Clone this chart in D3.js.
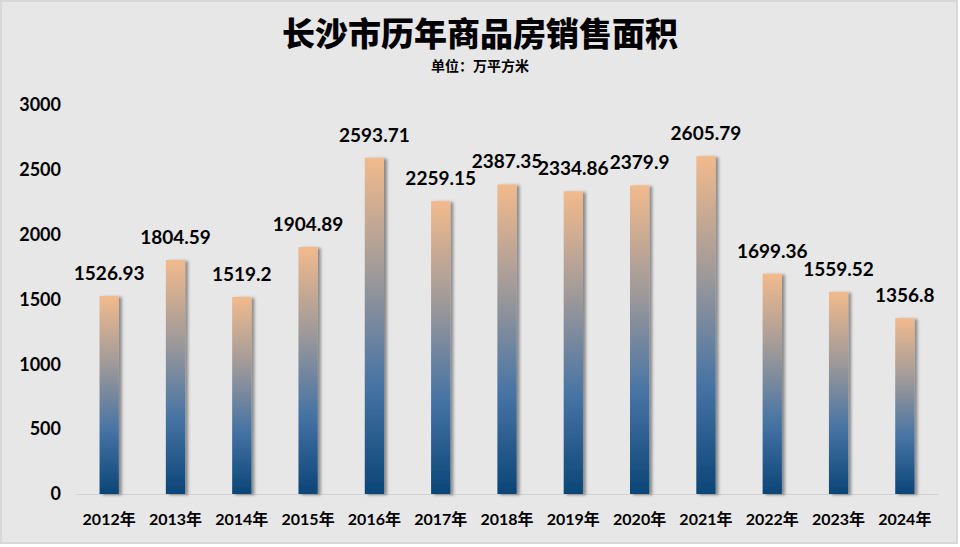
<!DOCTYPE html>
<html>
<head>
<meta charset="utf-8">
<script src="https://cdn.jsdelivr.net/npm/d3@7"></script>
<style>
  html, body { margin: 0; padding: 0; background: #ffffff; }
  svg { display: block; }
</style>
</head>
<body>
<div id="chart"></div>
<script>
// chart data
var years = ["2012年", "2013年", "2014年", "2015年", "2016年", "2017年", "2018年",
             "2019年", "2020年", "2021年", "2022年", "2023年", "2024年"];
var salesArea = [1526.93, 1804.59, 1519.2, 1904.89, 2593.71, 2259.15, 2387.35,
                 2334.86, 2379.9, 2605.79, 1699.36, 1559.52, 1356.8];
var yTicks = [0, 500, 1000, 1500, 2000, 2500, 3000];

var titleText = "长沙市历年商品房销售面积";
var unitText = "单位：万平方米";

var width = 960, height = 547;
var latinFont = "Lato, 'Noto Sans CJK SC', sans-serif";
var cjkFont = "'Noto Sans CJK SC', sans-serif";

var svg = d3.select("#chart").append("svg")
    .attr("width", width)
    .attr("height", height);

var defs = svg.append("defs");

// each bar gets the same peach -> grey -> blue fade, top to bottom
var grad = defs.append("linearGradient")
    .attr("id", "barFade")
    .attr("x1", 0).attr("y1", 0)
    .attr("x2", 0).attr("y2", 1);
grad.append("stop").attr("offset", "0%").attr("stop-color", "#f2ba8c");
grad.append("stop").attr("offset", "33%").attr("stop-color", "#a39b99");
grad.append("stop").attr("offset", "68%").attr("stop-color", "#4673a4");
grad.append("stop").attr("offset", "100%").attr("stop-color", "#0b4577");

var shadow = defs.append("filter")
    .attr("id", "barShadow")
    .attr("x", "-50%").attr("y", "-10%")
    .attr("width", "200%").attr("height", "120%");
shadow.append("feDropShadow")
    .attr("dx", 3).attr("dy", 1)
    .attr("stdDeviation", 1.4)
    .attr("flood-color", "#000")
    .attr("flood-opacity", 0.4);

// background panel
svg.append("rect")
    .attr("x", 1).attr("y", 1)
    .attr("width", 956).attr("height", 542)
    .attr("fill", "#e7e7e7")
    .attr("stroke", "#d8d8d8")
    .attr("stroke-width", 2);

// title + unit
svg.append("text")
    .attr("x", 480).attr("y", 46)
    .attr("text-anchor", "middle")
    .attr("font-family", cjkFont)
    .attr("font-weight", 900)
    .attr("font-size", 33)
    .attr("fill", "#000")
    .text(titleText);

svg.append("text")
    .attr("x", 480).attr("y", 71)
    .attr("text-anchor", "middle")
    .attr("font-family", cjkFont)
    .attr("font-weight", 700)
    .attr("font-size", 14)
    .attr("fill", "#000")
    .text(unitText);

var x = d3.scaleBand()
    .domain(years)
    .range([76, 938])
    .paddingInner(0.71)
    .paddingOuter(0.355);

var y = d3.scaleLinear()
    .domain([0, 3000])
    .range([494, 105]);

// y axis, labels only
var yAxis = svg.append("g")
    .attr("transform", "translate(76,0)")
    .call(d3.axisLeft(y).tickValues(yTicks).tickSize(0).tickPadding(15).tickFormat(d3.format("d")));
yAxis.select(".domain").remove();
yAxis.selectAll("text")
    .attr("font-family", latinFont)
    .attr("font-weight", 700)
    .attr("font-size", 18)
    .attr("fill", "#000");

// x axis, baseline + year labels
var xAxis = svg.append("g")
    .attr("transform", "translate(0,494)")
    .call(d3.axisBottom(x).tickSize(0).tickPadding(20));
xAxis.select(".domain")
    .attr("stroke", "#d2d2d2")
    .attr("stroke-width", 1.2);
xAxis.selectAll("text")
    .attr("font-family", latinFont)
    .attr("font-weight", 700)
    .attr("font-size", 16)
    .attr("fill", "#000");

// bars
svg.append("g")
  .selectAll("rect")
  .data(salesArea)
  .join("rect")
    .attr("x", function(d, i) { return x(years[i]); })
    .attr("y", function(d) { return y(d); })
    .attr("width", x.bandwidth())
    .attr("height", function(d) { return y(0) - y(d); })
    .attr("fill", "url(#barFade)")
    .attr("filter", "url(#barShadow)");

// value labels above bars
svg.append("g")
  .selectAll("text")
  .data(salesArea)
  .join("text")
    .attr("x", function(d, i) { return x(years[i]) + x.bandwidth() / 2; })
    .attr("y", function(d) { return y(d) - 16; })
    .attr("text-anchor", "middle")
    .attr("font-family", latinFont)
    .attr("font-weight", 700)
    .attr("font-size", 19)
    .attr("fill", "#000")
    .text(function(d) { return d; });
</script>
</body>
</html>
